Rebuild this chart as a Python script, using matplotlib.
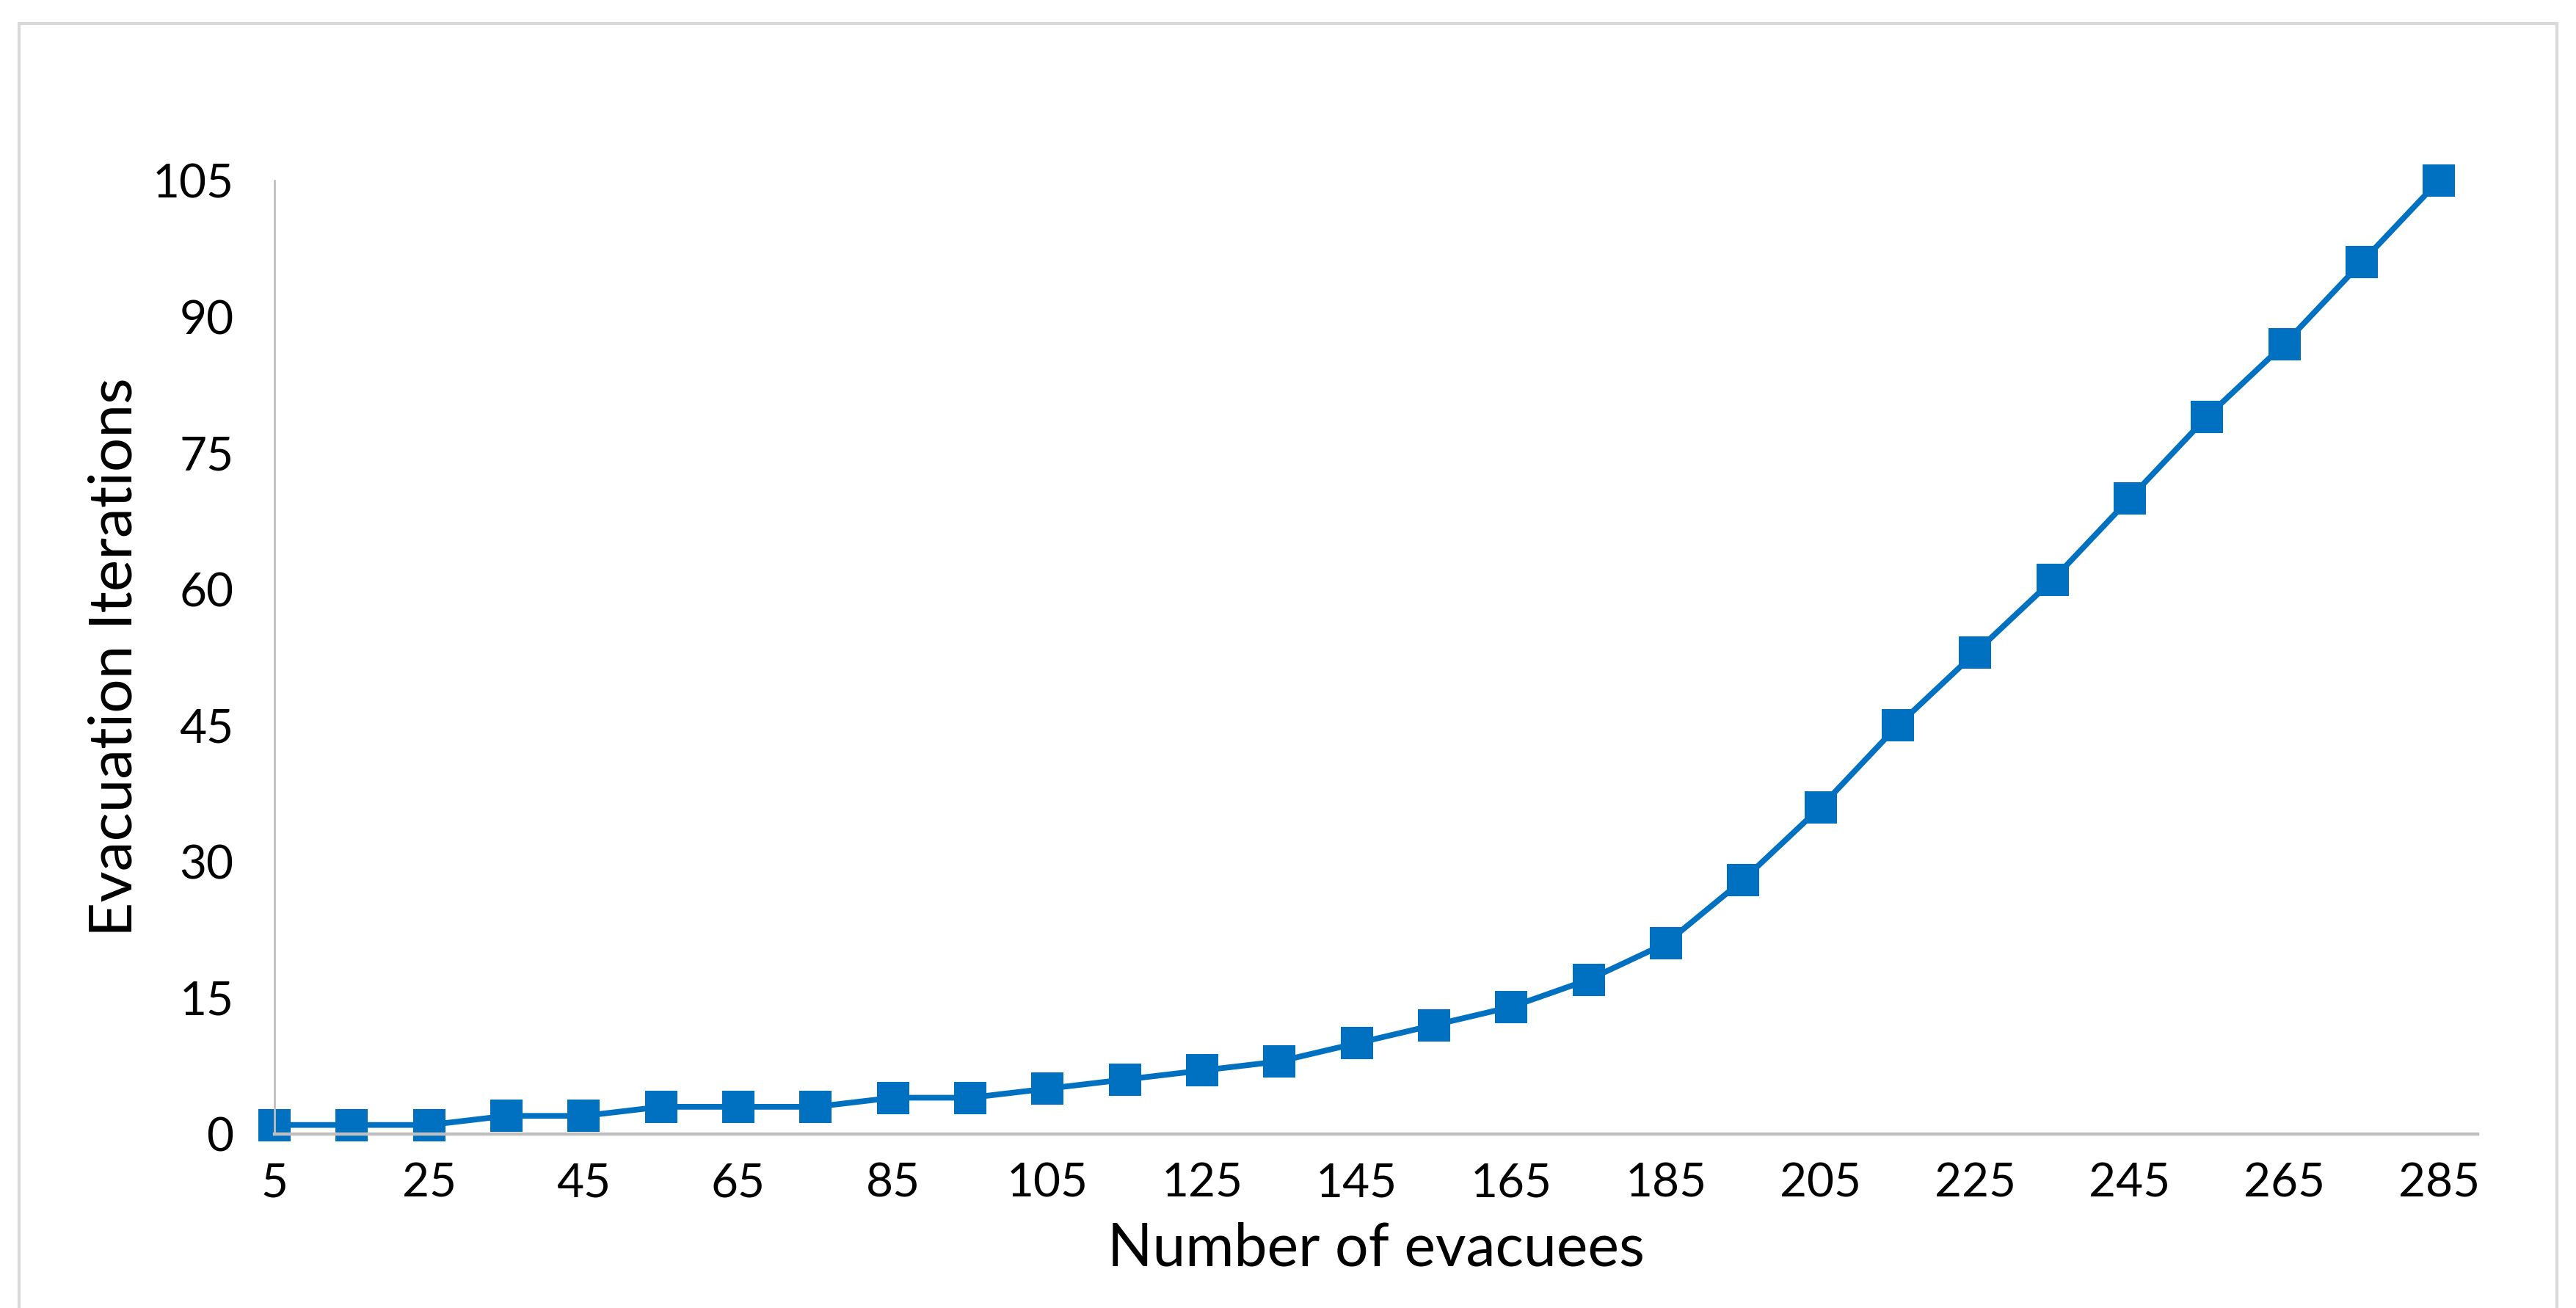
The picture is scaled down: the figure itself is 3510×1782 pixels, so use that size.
import matplotlib.pyplot as plt
from matplotlib.patches import Rectangle

# data
evacuees = [5, 15, 25, 35, 45, 55, 65, 75, 85, 95, 105, 115, 125, 135, 145,
            155, 165, 175, 185, 195, 205, 215, 225, 235, 245, 255, 265, 275, 285]
iterations = [1, 1, 1, 2, 2, 3, 3, 3, 4, 4, 5, 6, 7, 8, 10,
              12, 14, 17, 21, 28, 36, 45, 53, 61, 70, 79, 87, 96, 105]
x_ticks = [5, 25, 45, 65, 85, 105, 125, 145, 165, 185, 205, 225, 245, 265, 285]
y_ticks = [0, 15, 30, 45, 60, 75, 90, 105]

plt.rcParams['font.family'] = ['Lato', 'DejaVu Sans']

fig = plt.figure(figsize=(17.55, 8.91), dpi=200)
# light grey frame round the chart
fig.patches.append(Rectangle((26 / 3510, -0.05), (3484 - 26) / 3510, 1.05 - 32 / 1782,
                             transform=fig.transFigure, fill=False,
                             edgecolor='#d9d9d9', linewidth=1.5))

ax = fig.add_axes([374 / 3510, 1 - 1545 / 1782, (3376 - 374) / 3510, (1545 - 246) / 1782])
ax.plot(evacuees, iterations, color='#0070C0', linewidth=2.8,
        marker='s', markersize=15.5, markeredgewidth=0, clip_on=False)

ax.set_xlim(5, 290)
ax.set_ylim(0, 105)
ax.set_xticks(x_ticks)
ax.set_yticks(y_ticks)
ax.tick_params(length=0, labelsize=23, pad=14)
ax.tick_params(axis='y', pad=20)

for s in ['top', 'right']:
    ax.spines[s].set_visible(False)
for s in ['left', 'bottom']:
    ax.spines[s].set_color('#bfbfbf')
ax.spines['left'].set_linewidth(1.0)
ax.spines['bottom'].set_linewidth(1.6)

ax.set_xlabel('Number of evacuees', fontsize=29, labelpad=8)
ax.set_ylabel('Evacuation Iterations', fontsize=29.5, labelpad=5)

fig.savefig('out.png', dpi=200)
